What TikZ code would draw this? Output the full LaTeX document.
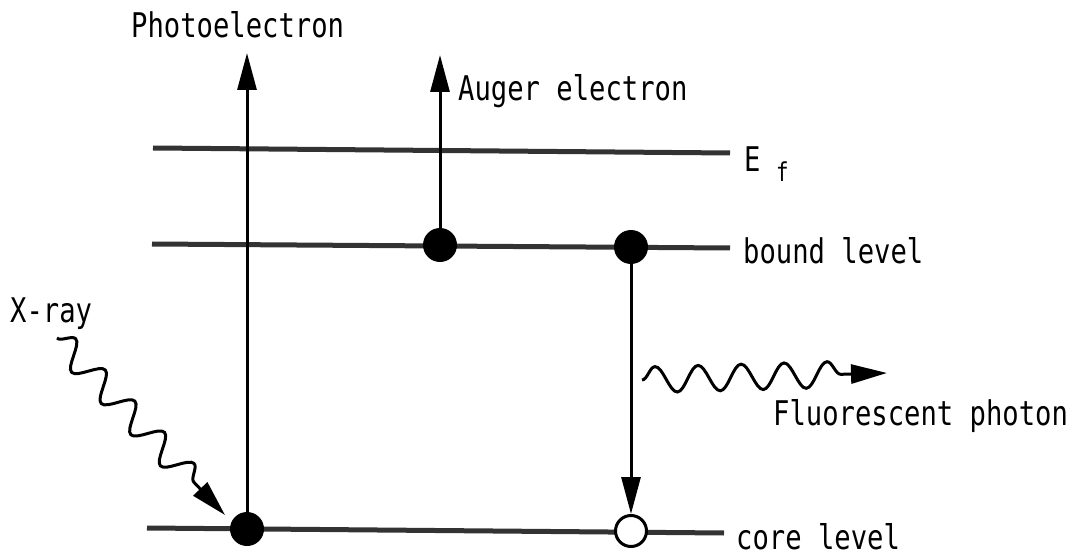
\documentclass[tikz,border=0pt]{standalone}
\usepackage{fontspec}
\newfontfamily\plotfont[FakeStretch=0.8]{DejaVu Sans Mono}
\usetikzlibrary{arrows.meta,decorations.pathmorphing}
\begin{document}
\begin{tikzpicture}[x=1pt,y=-1pt,
  level/.style={line width=5pt,black!80},
  arr/.style={line width=3pt,-{Triangle[length=37pt,width=19pt]}},
  wave/.style={line width=3pt,-{Triangle[length=36pt,width=19pt]},decorate,
     decoration={snake,amplitude=13pt,segment length=43pt,post length=30pt}},
  fdot/.style={circle,fill=black,inner sep=0pt,minimum size=34pt},
  hdot/.style={circle,draw=black,line width=3pt,fill=white,inner sep=0pt,minimum size=31pt},
  lbl/.style={anchor=base west,inner sep=0pt,font=\plotfont\fontsize{34}{36}\selectfont},
  sublbl/.style={anchor=base west,inner sep=0pt,font=\plotfont\fontsize{26}{28}\selectfont}]
\path[use as bounding box] (0,0) rectangle (1071,556);
% level lines
\coordinate (efL) at (153,148); \coordinate (efR) at (730,153);
\coordinate (bdL) at (152,244); \coordinate (bdR) at (730,248);
\coordinate (crL) at (147,528); \coordinate (crR) at (724,533);
\draw[level] (efL) -- (efR);
\draw[level] (bdL) -- (bdR);
\draw[level] (crL) -- (crR);
% electrons
\node[fdot] (pe) at (247,529) {};
\node[fdot] (au) at (440,245) {};
\node[fdot] (bd) at (631,247) {};
\node[hdot] (hole) at (631,531) {};
% free ends
\coordinate (peTop) at (247,53);
\coordinate (auTop) at (440,55);
\coordinate (xStart) at (57,338);
\coordinate (xTip) at (225,515);
\coordinate (fStart) at (642,380);
\coordinate (fTip) at (887,373);
% arrows
\draw[arr] (pe) -- (peTop);
\draw[arr] (au) -- (auTop);
\draw[arr] (bd) -- (hole);
\draw[wave] (xStart) -- (xTip);
\draw[wave] (fStart) -- (fTip);
% labels
\node[lbl] (tPE) at (131,38) {Photoelectron};
\node[lbl] (tAU) at (458,101) {Auger electron};
\node[lbl] (tE) at (744,172) {E};
\node[sublbl] (tf) at (776,182) {f};
\node[lbl] (tBD) at (743,263) {bound level};
\node[lbl] (tCR) at (736,549) {core level};
\node[lbl] (tX) at (10,322) {X-ray};
\node[lbl] (tFL) at (773,425) {Fluorescent photon};
\end{tikzpicture}
\end{document}
